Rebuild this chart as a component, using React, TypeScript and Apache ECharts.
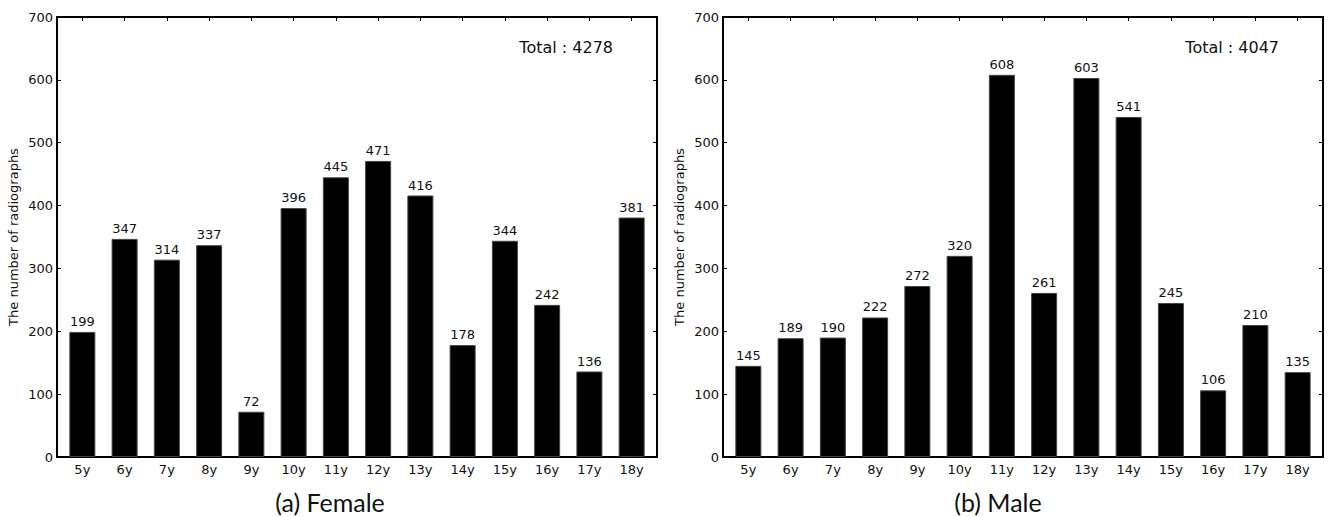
import React, { useEffect, useRef } from "react";
import * as echarts from "echarts";

const categories = ["5y", "6y", "7y", "8y", "9y", "10y", "11y", "12y", "13y", "14y", "15y", "16y", "17y", "18y"];
const femaleValues = [199, 347, 314, 337, 72, 396, 445, 471, 416, 178, 344, 242, 136, 381];
const maleValues = [145, 189, 190, 222, 272, 320, 608, 261, 603, 541, 245, 106, 210, 135];
const yTicks = [0, 100, 200, 300, 400, 500, 600, 700];
const panelTitles = ["(a) Female", "(b) Male"];
const totals = ["Total : 4278", "Total : 4047"];

const FONT = "DejaVu Sans";

export default function App() {
  const ref = useRef<HTMLDivElement>(null);
  useEffect(() => {
    document.body.style.margin = "0";
    if (!ref.current) return;
    const chart = echarts.init(ref.current, null, { renderer: "svg" });
    const idx = categories.map((_, i) => i);
    const lineStyle = { color: "#000", width: 2 };
    const grids = [
      { left: 57, top: 17, width: 600, height: 440 },
      { left: 723, top: 17, width: 600, height: 440 },
    ];
    const xAxes: any[] = [];
    const yAxes: any[] = [];
    grids.forEach((_, g) => {
      xAxes.push({
        type: "value",
        gridIndex: g,
        position: "bottom",
        min: -0.6,
        max: 13.6,
        axisLine: { show: true, onZero: false, lineStyle },
        axisTick: { show: true, inside: true, length: 4, customValues: idx, lineStyle: { color: "#000", width: 1 } },
        axisLabel: {
          show: true,
          customValues: idx,
          formatter: (v: number) => categories[Math.round(v)] ?? "",
          color: "#111",
          fontFamily: FONT,
          fontSize: 13,
          margin: 6,
        },
        splitLine: { show: false },
      });
      xAxes.push({
        type: "value",
        gridIndex: g,
        position: "top",
        min: -0.6,
        max: 13.6,
        axisLine: { show: true, onZero: false, lineStyle },
        axisTick: { show: true, inside: true, length: 4, customValues: idx, lineStyle: { color: "#000", width: 1 } },
        axisLabel: { show: false },
        splitLine: { show: false },
      });
      yAxes.push({
        type: "value",
        gridIndex: g,
        position: "left",
        min: 0,
        max: 700,
        interval: 100,
        name: "The number of radiographs",
        nameLocation: "middle",
        nameGap: 37,
        nameTextStyle: { color: "#111", fontFamily: FONT, fontSize: 13 },
        axisLine: { show: true, onZero: false, lineStyle },
        axisTick: { show: true, inside: true, length: 4, lineStyle: { color: "#000", width: 1 } },
        axisLabel: { color: "#111", fontFamily: FONT, fontSize: 13, margin: 4, formatter: (v: number) => (yTicks.includes(v) ? String(v) : "") },
        splitLine: { show: false },
      });
      yAxes.push({
        type: "value",
        gridIndex: g,
        position: "right",
        min: 0,
        max: 700,
        interval: 100,
        axisLine: { show: true, onZero: false, lineStyle },
        axisTick: { show: true, inside: true, length: 4, lineStyle: { color: "#000", width: 1 } },
        axisLabel: { show: false },
        splitLine: { show: false },
      });
    });

    const makeSeries = (vals: number[], g: number) => ({
      type: "bar",
      xAxisIndex: g * 2,
      yAxisIndex: g * 2,
      barWidth: 26,
      data: vals.map((v, i) => [i, v]),
      itemStyle: { color: "#000", borderColor: "#444", borderWidth: 1 },
      label: {
        show: true,
        position: "top",
        distance: 4,
        color: "#111",
        fontFamily: FONT,
        fontSize: 13,
        formatter: (p: any) => String(p.value[1]),
      },
    });

    chart.setOption({
      animation: false,
      grid: grids,
      xAxis: xAxes,
      yAxis: yAxes,
      series: [makeSeries(femaleValues, 0), makeSeries(maleValues, 1)],
      graphic: [
        { type: "text", x: 613, y: 47, style: { text: totals[0], fill: "#111", font: `16px "${FONT}"`, textAlign: "right", textVerticalAlign: "middle" } },
        { type: "text", x: 1279, y: 47, style: { text: totals[1], fill: "#111", font: `16px "${FONT}"`, textAlign: "right", textVerticalAlign: "middle" } },
        { type: "text", x: 330, y: 502, style: { text: panelTitles[0], fill: "#111", font: `25px Lato`, textAlign: "center", textVerticalAlign: "middle" } },
        { type: "text", x: 998, y: 502, style: { text: panelTitles[1], fill: "#111", font: `25px Lato`, textAlign: "center", textVerticalAlign: "middle" } },
      ],
    });
    return () => chart.dispose();
  }, []);
  return <div ref={ref} style={{ width: 1328, height: 517 }} />;
}
